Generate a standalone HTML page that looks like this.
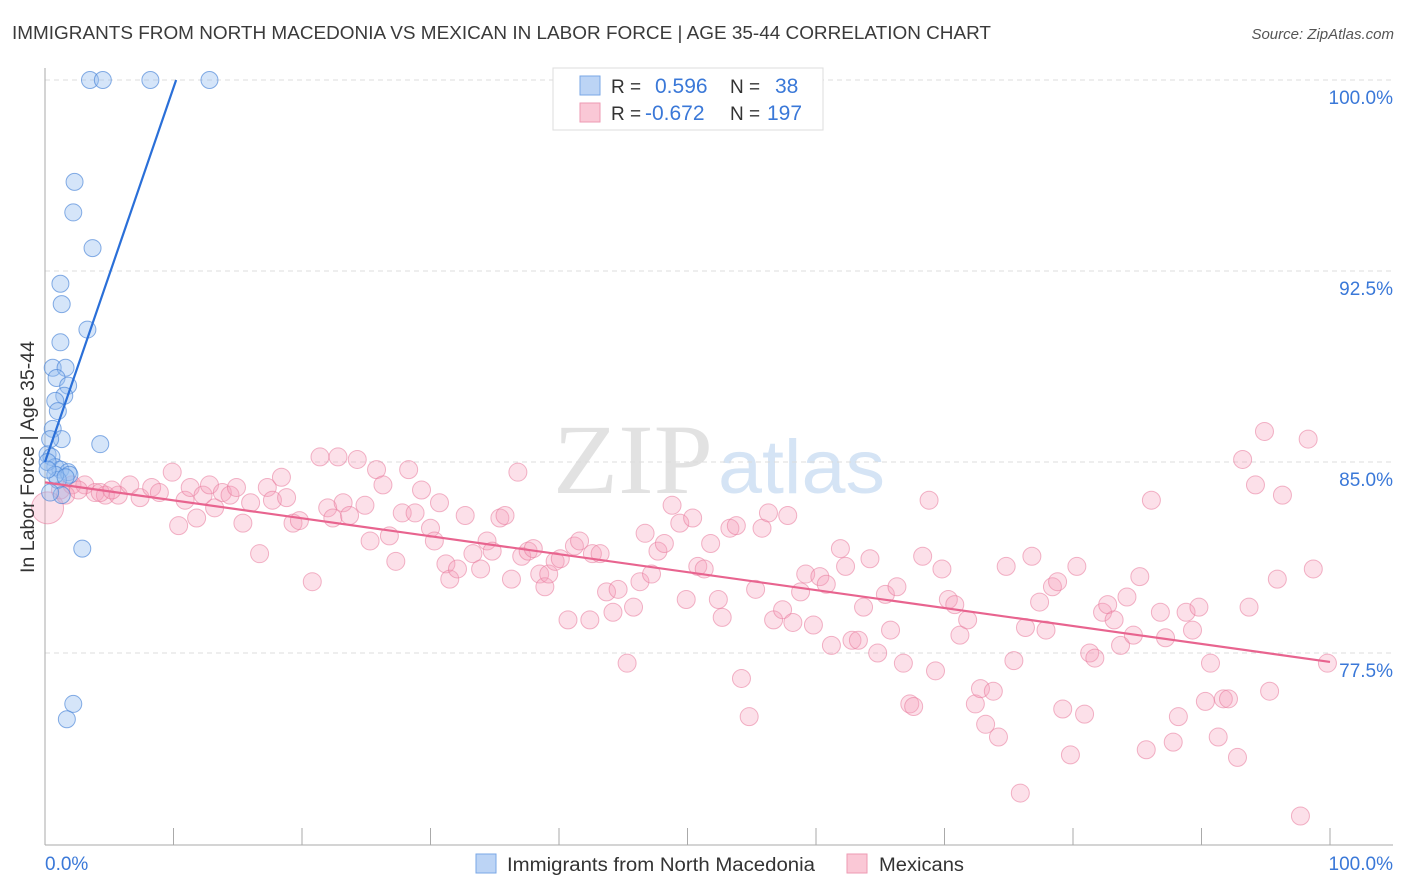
<!DOCTYPE html>
<html><head><meta charset="utf-8">
<style>
body{margin:0;background:#fff;font-family:"Liberation Sans",sans-serif;}
svg{display:block}
</style></head>
<body>
<svg id="chart" width="1406" height="892" xmlns="http://www.w3.org/2000/svg">
<text x="12" y="39" font-size="18.5" fill="#3a3a3a" textLength="979" lengthAdjust="spacingAndGlyphs">IMMIGRANTS FROM NORTH MACEDONIA VS MEXICAN IN LABOR FORCE | AGE 35-44 CORRELATION CHART</text>
<text x="1394" y="39" font-size="15" font-style="italic" fill="#555" text-anchor="end">Source: ZipAtlas.com</text>
<g>
<text x="553" y="493" font-size="100" font-family="Liberation Serif,serif" fill="#e2e2e2" textLength="160" lengthAdjust="spacingAndGlyphs">ZIP</text>
<text x="718" y="493" font-size="76" fill="#d5e4f5" textLength="167" lengthAdjust="spacingAndGlyphs">atlas</text>
</g>
<g id="grid"></g>
<g id="axes"></g>
<g id="pinkPts"></g>
<g id="bluePts"></g>
<g id="lines"></g>
<text transform="translate(34,457) rotate(-90)" font-size="19" fill="#333" text-anchor="middle" textLength="232" lengthAdjust="spacingAndGlyphs">In Labor Force | Age 35-44</text>
<g>
<rect x="553" y="68" width="270" height="62" fill="#fff" stroke="#ddd"/>
<rect x="580" y="76" width="20" height="19" fill="#bcd4f5" stroke="#7aa7e6"/>
<rect x="580" y="103" width="20" height="19" fill="#fac8d6" stroke="#ee9ab3"/>
<text x="611" y="93" font-size="19" fill="#333">R =</text>
<text x="655" y="93" font-size="21" fill="#3a78d8">0.596</text>
<text x="730" y="93" font-size="19" fill="#333">N =</text>
<text x="775" y="93" font-size="21" fill="#3a78d8">38</text>
<text x="611" y="120" font-size="19" fill="#333">R =</text>
<text x="645" y="120" font-size="21" fill="#3a78d8">-0.672</text>
<text x="730" y="120" font-size="19" fill="#333">N =</text>
<text x="767" y="120" font-size="21" fill="#3a78d8">197</text>
</g>
<g>
<rect x="476" y="854" width="20" height="19" fill="#bcd4f5" stroke="#7aa7e6"/>
<text x="507" y="871" font-size="19" fill="#333" textLength="308" lengthAdjust="spacingAndGlyphs">Immigrants from North Macedonia</text>
<rect x="847" y="854" width="20" height="19" fill="#fac8d6" stroke="#ee9ab3"/>
<text x="879" y="871" font-size="19" fill="#333" textLength="85" lengthAdjust="spacingAndGlyphs">Mexicans</text>
</g>
</svg>
<script>
const yTicks=[77.5,85.0,92.5,100.0];
const xTickLabels=["0.0%","100.0%"];
const blueX=[3.5,4.5,8.2,12.8,2.3,2.2,3.7,1.2,1.3,3.3,1.2,0.6,1.6,0.9,1.8,1.5,0.8,1.0,0.6,1.3,4.3,0.4,0.2,0.5,0.8,1.2,1.8,1.9,1.0,1.3,0.4,2.9,2.2,1.7,0.2,0.8,1.6,0.2];
const blueY=[100,100,100,100,96.0,94.8,93.4,92.0,91.2,90.2,89.7,88.7,88.7,88.3,88.0,87.6,87.4,87.0,86.3,85.9,85.7,85.9,85.3,85.2,84.8,84.7,84.6,84.5,84.3,83.7,83.8,81.6,75.5,74.9,85.0,84.5,84.4,84.7];
const pinkX=[0.2,1.2,2.1,3.1,3.9,4.7,5.7,6.6,7.4,8.3,8.9,9.9,10.4,10.9,11.3,11.8,12.3,12.8,13.2,13.8,14.4,14.9,15.4,16.0,16.7,17.3,17.7,18.4,18.8,19.3,19.8,20.8,21.4,22.0,22.4,22.8,23.2,23.7,24.3,24.9,25.3,25.8,26.3,26.8,27.3,27.8,28.3,28.8,29.3,30.0,30.3,30.7,31.2,31.5,32.1,32.7,33.3,33.9,34.4,34.8,35.4,35.8,36.3,36.8,37.1,37.6,38.0,38.5,38.9,39.2,39.7,40.1,40.7,41.2,41.6,42.4,42.6,43.2,43.7,44.2,44.6,45.3,45.8,46.3,46.7,47.2,47.7,48.2,48.8,49.4,49.9,50.4,50.8,51.3,51.8,52.4,52.7,53.3,53.8,54.2,54.8,55.3,55.8,56.3,56.7,57.4,57.8,58.2,58.8,59.2,59.8,60.3,60.8,61.2,61.9,62.3,62.8,63.3,63.7,64.2,64.8,65.4,65.8,66.3,66.8,67.3,67.6,68.3,68.8,69.3,69.8,70.3,70.8,71.2,71.8,72.4,72.8,73.2,73.8,74.2,74.8,75.4,75.9,76.3,76.8,77.4,77.9,78.4,78.8,79.2,79.8,80.3,80.9,81.3,81.7,82.3,82.7,83.2,83.7,84.2,84.7,85.2,85.7,86.1,86.8,87.2,87.8,88.2,88.8,89.3,89.8,90.3,90.7,91.3,91.7,92.1,92.8,93.2,93.7,94.2,94.9,95.3,95.9,96.3,97.7,98.3,98.7,99.8,1.6,4.3,5.2,2.6];
const pinkY=[83.2,83.9,84.1,84.1,83.8,83.7,83.7,84.1,83.6,84.0,83.8,84.6,82.5,83.5,84.0,82.8,83.7,84.1,83.2,83.8,83.7,84.0,82.6,83.4,81.4,84.0,83.5,84.4,83.6,82.6,82.7,80.3,85.2,83.2,82.8,85.2,83.4,82.9,85.1,83.3,81.9,84.7,84.1,82.1,81.1,83.0,84.7,83.0,83.9,82.4,81.9,83.4,81.0,80.4,80.8,82.9,81.4,80.8,81.9,81.5,82.8,82.9,80.4,84.6,81.3,81.5,81.6,80.6,80.1,80.6,81.1,81.2,78.8,81.7,81.9,78.8,81.4,81.4,79.9,79.1,80.0,77.1,79.3,80.3,82.2,80.6,81.5,81.8,83.3,82.6,79.6,82.8,80.9,80.8,81.8,79.6,78.9,82.4,82.5,76.5,75.0,80.0,82.4,83.0,78.8,79.2,82.9,78.7,79.9,80.6,78.6,80.5,80.2,77.8,81.6,80.9,78.0,78.0,79.3,81.2,77.5,79.8,78.4,80.1,77.1,75.5,75.4,81.3,83.5,76.8,80.8,79.6,79.4,78.2,78.8,75.5,76.1,74.7,76.0,74.2,80.9,77.2,72.0,78.5,81.3,79.5,78.4,80.1,80.3,75.3,73.5,80.9,75.1,77.5,77.3,79.1,79.4,78.8,77.8,79.7,78.2,80.5,73.7,83.5,79.1,78.1,74.0,75.0,79.1,78.4,79.3,75.6,77.1,74.2,75.7,75.7,73.4,85.1,79.3,84.1,86.2,76.0,80.4,83.7,71.1,85.9,80.8,77.1,83.7,83.8,83.9,83.9];
const blueFit=[85.0,1.47];
const pinkFit=[84.2,-0.0705];

const NS="http://www.w3.org/2000/svg";
const X0=45,X1=1330,YT=80,YB=653;
const sx=v=>X0+(X1-X0)*v/100;
const sy=v=>YT+(100-v)*(YB-YT)/22.5;
function mk(tag,attrs,parent){const e=document.createElementNS(NS,tag);for(const k in attrs)e.setAttribute(k,attrs[k]);parent.appendChild(e);return e;}
const grid=document.getElementById('grid'),axes=document.getElementById('axes');
yTicks.forEach(t=>{
 const l=mk('line',{x1:X0,x2:1393,y1:sy(t),y2:sy(t),stroke:'#dcdcdc','stroke-dasharray':'5,4'},grid);
 
 
 const tx=mk('text',{x:1393,y:sy(t)+24,'font-size':19,fill:'#3a78d8','text-anchor':'end'},axes);
 tx.textContent=t.toFixed(1)+'%';
 
 
});
const ax=mk('line',{x1:X0,x2:X0,y1:68,y2:845,stroke:'#aaa'},axes);


const bx=mk('line',{x1:X0,x2:1393,y1:845,y2:845,stroke:'#aaa'},axes);


for(let i=0;i<=10;i++){
 const t=mk('line',{x1:sx(i*10),x2:sx(i*10),y1:828,y2:845,stroke:'#aaa'},axes);
 
 
}
[[0,'start',45],[100,'end',1393]].forEach((d,i)=>{
 const tx=mk('text',{x:d[2],y:870,'font-size':19,fill:'#3a78d8','text-anchor':d[1]},axes);
 tx.textContent=xTickLabels[i];
 
 
});
const pg=document.getElementById('pinkPts');
pinkX.forEach((x,i)=>{
 const c=mk('circle',{cx:sx(x),cy:sy(pinkY[i]),r:i===0?16:9,fill:'rgba(246,160,186,0.32)',stroke:'rgba(232,120,155,0.55)','stroke-width':1},pg);
 
 
});
const bg=document.getElementById('bluePts');
blueX.forEach((x,i)=>{
 const c=mk('circle',{cx:sx(x),cy:sy(blueY[i]),r:8.5,fill:'rgba(150,190,240,0.4)',stroke:'rgba(70,130,215,0.65)','stroke-width':1},bg);
 
 
});
const lg=document.getElementById('lines');
const bEnd=(100-blueFit[0])/blueFit[1];
const bl=mk('line',{x1:sx(0),y1:sy(blueFit[0]),x2:sx(bEnd),y2:sy(100),stroke:'#2a6fd8','stroke-width':2.2},lg);


const pl=mk('line',{x1:sx(0),y1:sy(pinkFit[0]),x2:sx(100),y2:sy(pinkFit[0]+pinkFit[1]*100),stroke:'#e8648f','stroke-width':2.2},lg);


</script>
</body></html>
